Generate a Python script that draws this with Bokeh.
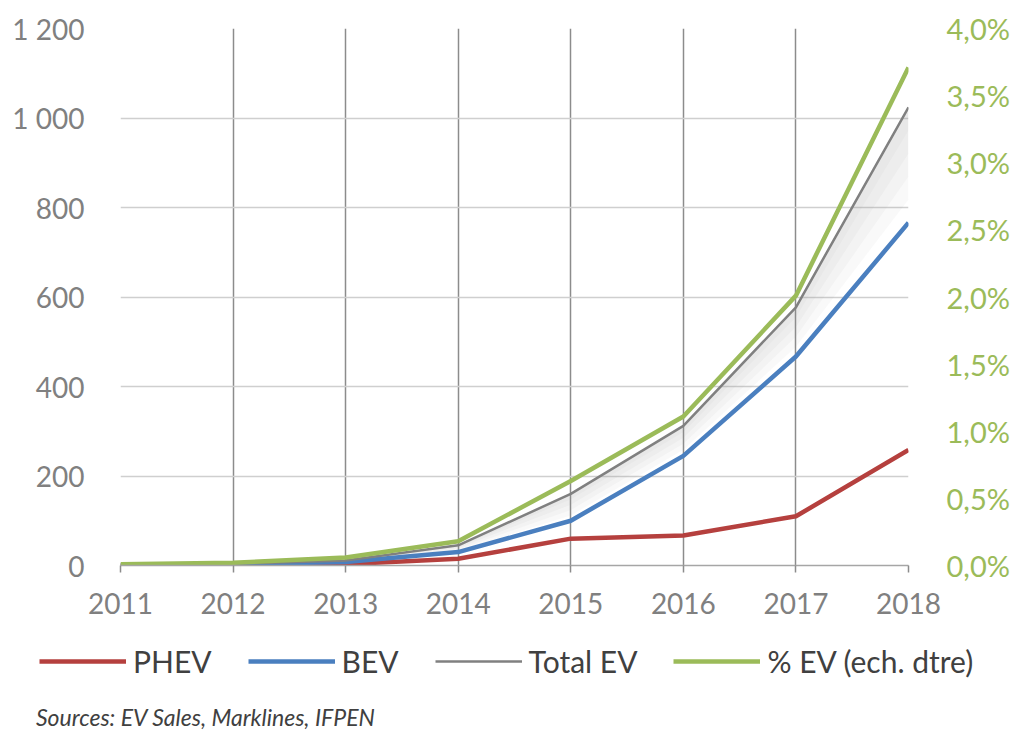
from bokeh.plotting import figure
from bokeh.layouts import column
from bokeh.models import (Range1d, LinearAxis, FixedTicker, Legend, LegendItem, Div)
from bokeh.embed import file_html
from bokeh.resources import INLINE

years = [2011, 2012, 2013, 2014, 2015, 2016, 2017, 2018]
phev = [0, 1, 3, 15, 60, 67, 110, 258]
bev = [0, 3, 8, 30, 100, 245, 467, 766]
total = [0, 4, 11, 45, 160, 312, 577, 1024]
pct_ev = [0.0001, 0.0002, 0.0006, 0.0018, 0.0063, 0.0111, 0.0201, 0.0371]

left_ticks = [0, 200, 400, 600, 800, 1000, 1200]
left_labels = ["0", "200", "400", "600", "800", "1 000", "1 200"]
right_ticks = [0, 0.005, 0.01, 0.015, 0.02, 0.025, 0.03, 0.035, 0.04]
right_labels = ["0,0%", "0,5%", "1,0%", "1,5%", "2,0%", "2,5%", "3,0%", "3,5%", "4,0%"]
series_names = ["PHEV", "BEV", "Total EV", "% EV (ech. dtre)"]
source_text = "Sources: EV Sales, Marklines, IFPEN"

FONT = "Lato"
GREY_TXT = "#808080"
GREEN = "#9bbb59"
RED = "#b5403e"
BLUE = "#4a7fbf"
GREY = "#808080"
colors = [RED, BLUE, GREY, GREEN]
widths = [4.5, 4.5, 2.5, 4.5]

p = figure(frame_width=788, frame_height=537, output_backend="svg", toolbar_location=None,
           x_range=Range1d(2011, 2018), y_range=Range1d(0, 1200),
           min_border_left=120, min_border_right=100, min_border_top=28,
           min_border_bottom=60)
p.outline_line_color = None
p.background_fill_color = "white"

p.extra_y_ranges = {"pct": Range1d(0, 0.04)}

# grids
p.xgrid.ticker = FixedTicker(ticks=years)
p.xgrid.grid_line_color = "#8c8c8c"
p.xgrid.grid_line_width = 1.5
p.ygrid.ticker = FixedTicker(ticks=left_ticks)
p.ygrid.grid_line_color = "#cfcfcf"
p.ygrid.grid_line_width = 1.5

# x axis
xa = p.xaxis[0]
xa.ticker = FixedTicker(ticks=years)
xa.axis_line_color = "#a6a6a6"
xa.axis_line_width = 1.5
xa.major_tick_line_color = "#8c8c8c"
xa.major_tick_line_width = 1.5
xa.major_tick_out = 7
xa.major_tick_in = 0
xa.minor_tick_line_color = None
xa.major_label_standoff = 20
xa.major_label_text_font = FONT
xa.major_label_text_font_size = "28px"
xa.major_label_text_color = GREY_TXT

# left axis
ya = p.yaxis[0]
ya.ticker = FixedTicker(ticks=left_ticks)
ya.major_label_overrides = {t: l for t, l in zip(left_ticks, left_labels)}
ya.axis_line_color = None
ya.major_tick_line_color = None
ya.minor_tick_line_color = None
ya.major_label_standoff = 30
ya.major_label_text_font = FONT
ya.major_label_text_font_size = "28px"
ya.major_label_text_color = GREY_TXT

# right axis
ra = LinearAxis(y_range_name="pct", ticker=FixedTicker(ticks=right_ticks))
ra.major_label_overrides = {t: l for t, l in zip(right_ticks, right_labels)}
ra.axis_line_color = None
ra.major_tick_line_color = None
ra.minor_tick_line_color = None
ra.major_label_standoff = 32
ra.major_label_text_font = FONT
ra.major_label_text_font_size = "29px"
ra.major_label_text_color = GREEN
p.add_layout(ra, "right")

# shadow under total line
for frac in [0.2, 0.4, 0.6, 0.8]:
    lower = [t - frac * (t - b) for t, b in zip(total, bev)]
    p.varea(x=years, y1=lower, y2=total, fill_color="#a0a0a0", fill_alpha=0.06)

p.line(years, phev, line_color=RED, line_width=4.5)
p.line(years, bev, line_color=BLUE, line_width=4.5)
p.line(years, total, line_color=GREY, line_width=2.5)
p.line(years, pct_ev, line_color=GREEN, line_width=4.5, y_range_name="pct")

# legend panel (legend proxies lie outside the visible range)
q = figure(frame_width=1008, frame_height=70, output_backend="svg", toolbar_location=None,
           x_range=Range1d(0, 1), y_range=Range1d(0, 1),
           min_border_left=0, min_border_right=0, min_border_top=0, min_border_bottom=0,
           x_axis_type=None, y_axis_type=None)
q.outline_line_color = None
q.xgrid.visible = False
q.ygrid.visible = False
dummies = [q.line(x=[-5, -4], y=[-5, -4], line_color=c, line_width=w)
           for c, w in zip(colors, widths)]

legend = Legend(items=[LegendItem(label=n, renderers=[r]) for n, r in zip(series_names, dummies)],
                orientation="horizontal", location=(39, 16),
                label_text_font=FONT, label_text_font_size="30px",
                label_text_color="#404040", glyph_width=87, glyph_height=24,
                label_standoff=7, spacing=36, border_line_color=None,
                background_fill_alpha=0, margin=0, padding=4)
q.add_layout(legend, "center")

src = Div(text=source_text, width=1008, height=34,
          styles={"font-family": "Lato", "font-style": "italic", "font-size": "23px",
                  "color": "#404040", "padding-left": "36px", "padding-top": "8px",
                  "line-height": "28px", "margin": "0"})

open("out.html", "w").write(file_html(column(p, q, src, spacing=0), INLINE))
